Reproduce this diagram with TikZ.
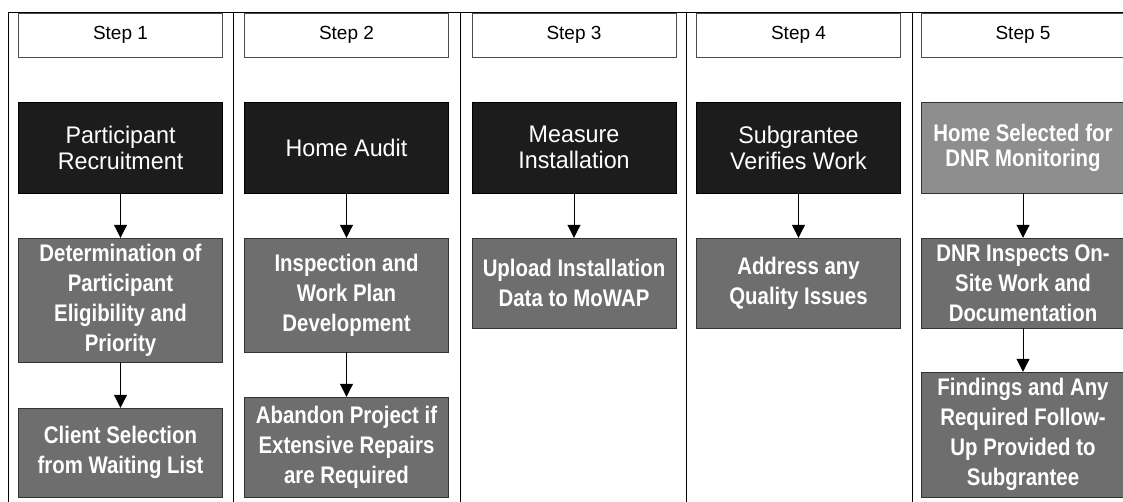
\documentclass[tikz,border=0pt]{standalone}
\usepackage{fontspec}
\usetikzlibrary{arrows.meta}
\newfontfamily\stepfont{Liberation Sans}
\newfontfamily\boxfont[FakeStretch=0.97]{Liberation Sans}
\newfontfamily\boxfontb[FakeStretch=0.85]{Liberation Sans Bold}
\definecolor{boxblack}{HTML}{1C1C1C}
\definecolor{boxgrey}{HTML}{6E6E6E}
\definecolor{boxlight}{HTML}{8E8E8E}
\tikzset{
  stephdr/.style={draw=black!70, line width=0.8pt, minimum width=204pt, minimum height=44pt,
    inner sep=0pt, font={\stepfont\fontsize{19}{21}\selectfont}},
  darkbox/.style={draw=black, fill=boxblack, text=white, minimum width=204pt, minimum height=91pt,
    inner sep=1pt, align=center, font={\boxfont\fontsize{24}{26}\selectfont}},
  greybox/.style={draw=black!80, fill=boxgrey, text=white, minimum width=204pt,
    inner sep=1pt, align=center, font={\boxfontb\fontsize{24}{30}\selectfont}},
  lightbox/.style={greybox, fill=boxlight, minimum height=91pt, font={\boxfontb\fontsize{24}{25}\selectfont}}
}
\begin{document}
\begin{tikzpicture}[x=1pt,y=-1pt]
        \tikzset{>={Triangle[width=13pt,length=13pt]}}
        \useasboundingbox (0,0) rectangle (1123,502);
        \draw[line width=0.9pt] (8,12) -- (1123,12);
        \foreach \xd in {8,233,460,686,912}
            \draw[line width=1pt] (\xd,12) -- (\xd,502);
        % step headers
        \node[stephdr] (h1) at (120.5,35) {Step 1};
        \node[stephdr] (h2) at (346.5,35) {Step 2};
        \node[stephdr] (h3) at (574,35) {Step 3};
        \node[stephdr] (h4) at (798.5,35) {Step 4};
        \node[stephdr] (h5) at (1023,35) {Step 5};
        % first row
        \node[darkbox] (a1) at (120.5,147.5) {Participant\\Recruitment};
        \node[darkbox] (a2) at (346.5,147.5) {Home Audit};
        \node[darkbox] (a3) at (574,147.5) {Measure\\Installation};
        \node[darkbox] (a4) at (798.5,147.5) {Subgrantee\\Verifies Work};
        \node[lightbox] (a5) at (1023,147.5) {Home Selected for\\DNR Monitoring};
        % second row
        \node[greybox, minimum height=124pt] (b1) at (120.5,300) {Determination of\\Participant\\Eligibility and\\Priority};
        \node[greybox, minimum height=114pt] (b2) at (346.5,295) {Inspection and\\Work Plan\\Development};
        \node[greybox, minimum height=90pt] (b3) at (574,283) {Upload Installation\\Data to MoWAP};
        \node[greybox, minimum height=90pt] (b4) at (798.5,283) {Address any\\Quality Issues};
        \node[greybox, minimum height=90pt] (b5) at (1023,283) {DNR Inspects On-\\Site Work and\\Documentation};
        % third row
        \node[greybox, minimum height=89pt] (c1) at (120.5,452.5) {Client Selection\\from Waiting List};
        \node[greybox, minimum height=100pt] (c2) at (346.5,447) {Abandon Project if\\Extensive Repairs\\are Required};
        \node[greybox, minimum height=125pt] (c5) at (1023,434.5) {Findings and Any\\Required Follow-\\Up Provided to\\Subgrantee};
        % arrows
        \draw[->, line width=1pt] (a1) -- (b1);
        \draw[->, line width=1pt] (b1) -- (c1);
        \draw[->, line width=1pt] (a2) -- (b2);
        \draw[->, line width=1pt] (b2) -- (c2);
        \draw[->, line width=1pt] (a3) -- (b3);
        \draw[->, line width=1pt] (a4) -- (b4);
        \draw[->, line width=1pt] (a5) -- (b5);
        \draw[->, line width=1pt] (b5) -- (c5);
    \end{tikzpicture}
\end{document}
